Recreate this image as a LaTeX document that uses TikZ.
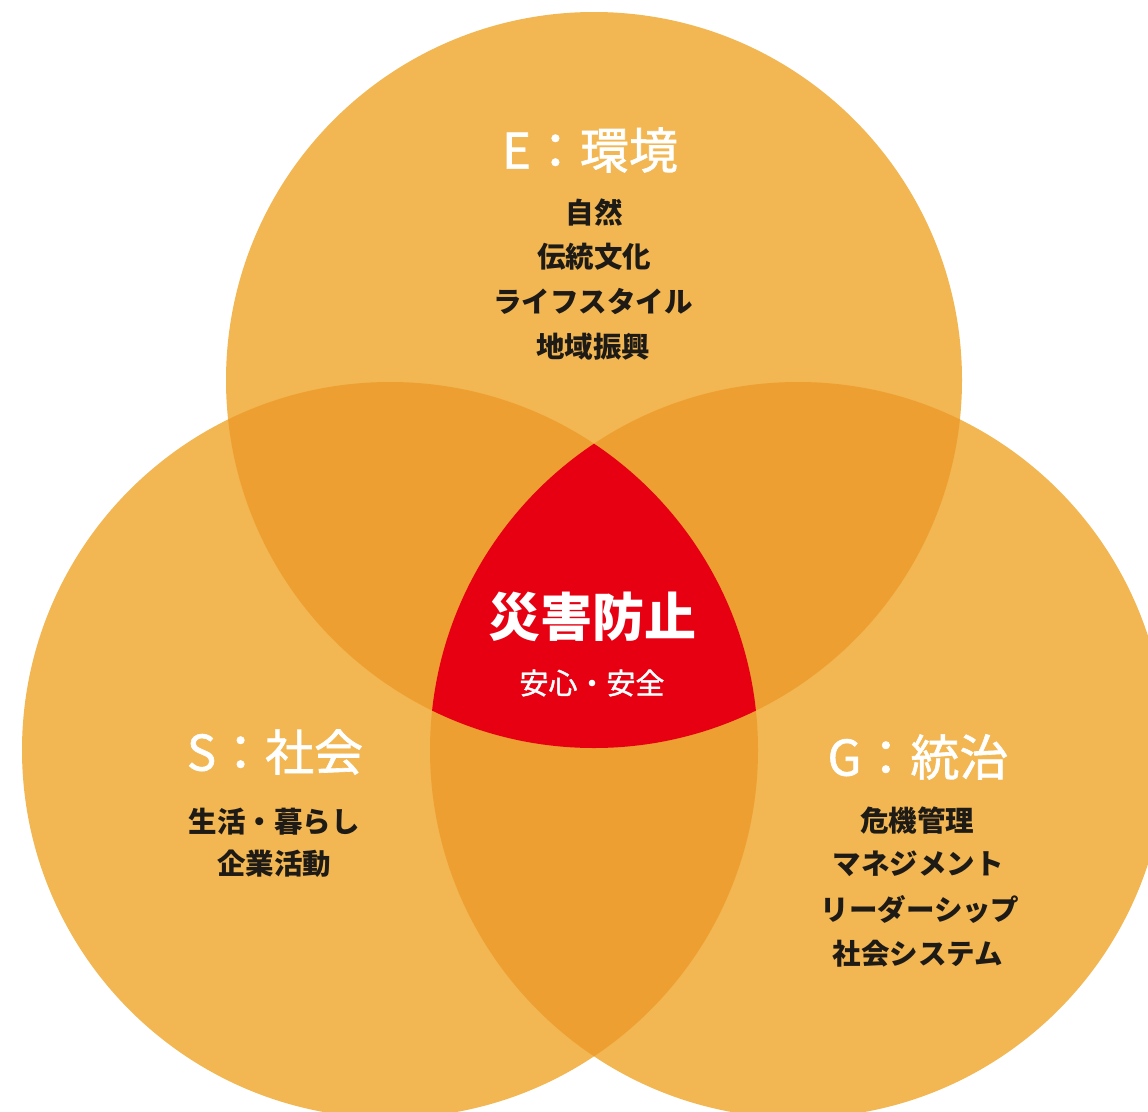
\documentclass[tikz,border=0pt]{standalone}
\usepackage{fontspec}
\newfontfamily\jp{Noto Sans CJK JP}
\newfontfamily\jpm[FakeBold=1.3]{Noto Sans CJK JP}
\definecolor{lightor}{HTML}{F2B752}
\definecolor{darkor}{HTML}{EE9F32}
\definecolor{redc}{HTML}{E60012}
\definecolor{ink}{HTML}{1E1A16}
\begin{document}
\begin{tikzpicture}[x=1pt,y=-1pt,
  title/.style={font=\jpm\fontsize{49}{49}\selectfont, text=white, inner sep=0pt},
  item/.style={font=\jp\bfseries\fontsize{28.5}{28.5}\selectfont, text=ink, inner sep=0pt},
  core/.style={font=\jp\bfseries\fontsize{52}{52}\selectfont, text=white, inner sep=0pt},
  coresub/.style={font=\jpm\fontsize{29}{29}\selectfont, text=white, inner sep=0pt}]
\useasboundingbox (0,0) rectangle (1148,1111);
\clip (0,0) rectangle (1148,1111);
\coordinate (cE) at (594,380);
\coordinate (cS) at (390,750);
\coordinate (cG) at (798,750);
% single circles
\fill[lightor] (cE) circle (368pt);
\fill[lightor] (cS) circle (368pt);
\fill[lightor] (cG) circle (368pt);
% pairwise overlaps
\begin{scope}
  \clip (cE) circle (368pt);
  \fill[darkor] (cS) circle (368pt);
  \fill[darkor] (cG) circle (368pt);
\end{scope}
\begin{scope}
  \clip (cS) circle (368pt);
  \fill[darkor] (cG) circle (368pt);
\end{scope}
% triple overlap
\begin{scope}
  \clip (cE) circle (368pt);
  \clip (cS) circle (368pt);
  \fill[redc] (cG) circle (368pt);
\end{scope}
% E texts
\node[title] (tE) at (590,150) {E：環境};
\node[item] (e1) at (594,213) {自然};
\node[item] (e2) at (594,257) {伝統文化};
\node[item] (e3) at (593,301) {ライフスタイル};
\node[item] (e4) at (593,347) {地域振興};
% S texts
\node[title] (tS) at (275,752) {S：社会};
\node[item] (s1) at (274,822) {生活・暮らし};
\node[item] (s2) at (274,864) {企業活動};
% G texts
\node[title] (tG) at (918,757) {G：統治};
\node[item] (g1) at (917,821) {危機管理};
\node[item] (g2) at (918,864) {マネジメント};
\node[item] (g3) at (920,909) {リーダーシップ};
\node[item] (g4) at (918,954) {社会システム};
% core
\node[core] (core) at (592,617) {災害防止};
\node[coresub] (coresub) at (592,683) {安心・安全};
\end{tikzpicture}
\end{document}
